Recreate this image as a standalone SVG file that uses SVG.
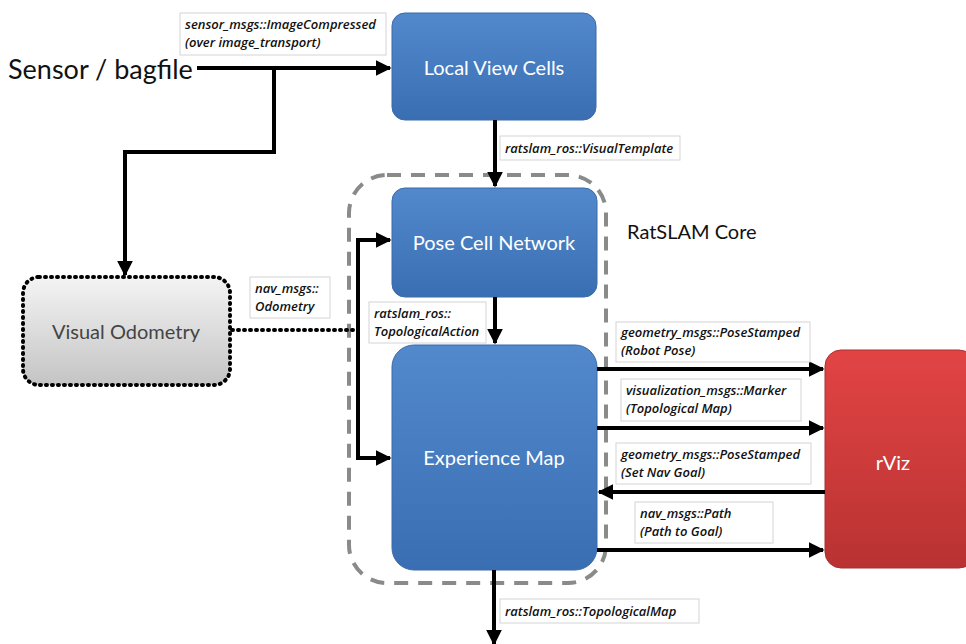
<svg xmlns="http://www.w3.org/2000/svg" width="966" height="644" viewBox="0 0 966 644">
<defs>
<linearGradient id="gBlue" x1="0" y1="0" x2="0" y2="1"><stop offset="0" stop-color="#5289cc"/><stop offset="1" stop-color="#3a6eb3"/></linearGradient>
<linearGradient id="gRed" x1="0" y1="0" x2="0" y2="1"><stop offset="0" stop-color="#e24444"/><stop offset="1" stop-color="#b93232"/></linearGradient>
<linearGradient id="gGray" x1="0" y1="0" x2="0" y2="1"><stop offset="0" stop-color="#f4f4f4"/><stop offset="1" stop-color="#c4c4c4"/></linearGradient>
<marker id="ah" viewBox="0 0 10 10" refX="9" refY="5" markerWidth="4" markerHeight="4" orient="auto" markerUnits="strokeWidth"><path d="M0,0 L10,5 L0,10 z" fill="#000"/></marker>
<style>
.blue{fill:url(#gBlue);stroke:#3a6aa8;stroke-width:1}
.ntext{font-family:Lato,"Open Sans",sans-serif;font-size:20px;fill:#fff;text-anchor:middle}
.lbox{fill:#fff;stroke:#d4d4d4;stroke-width:1}
.ltext{font-family:"Open Sans","Liberation Sans",sans-serif;font-size:13px;font-style:italic;font-weight:600;fill:#111}
.conn{stroke:#000;stroke-width:4;fill:none}
.arr{marker-end:url(#ah)}
</style>
</defs>

<g id="core-boundary">
<rect x="349" y="175" width="257" height="408" rx="38" fill="none" stroke="#8a8a8a" stroke-width="4" stroke-dasharray="14 10"/>
<text x="627" y="239" font-family="Lato,'Open Sans',sans-serif" font-size="20" fill="#111">RatSLAM Core</text>
</g>

<g id="sensor">
<text x="8" y="79" font-family="Lato,'Open Sans',sans-serif" font-size="27" fill="#111">Sensor / bagfile</text>
</g>

<g id="local-view-cells">
<rect class="blue" x="392" y="13" width="204" height="107" rx="13"/>
<text class="ntext" x="494" y="75">Local View Cells</text>
</g>

<g id="pose-cell-network">
<rect class="blue" x="392" y="188" width="205" height="109" rx="13"/>
<text class="ntext" x="494" y="250">Pose Cell Network</text>
</g>

<g id="experience-map">
<rect class="blue" x="392" y="345" width="205" height="225" rx="22"/>
<text class="ntext" x="494" y="465">Experience Map</text>
</g>

<g id="visual-odometry">
<rect x="23" y="277" width="207" height="108" rx="16" fill="url(#gGray)" stroke="#000" stroke-width="4" stroke-dasharray="1 5" stroke-linecap="round"/>
<text x="126" y="339" font-family="Lato,'Open Sans',sans-serif" font-size="20" fill="#444" text-anchor="middle">Visual Odometry</text>
</g>

<g id="rviz">
<rect x="825" y="350" width="150" height="218" rx="16" fill="url(#gRed)" stroke="#a83030" stroke-width="1"/>
<text x="893" y="470" font-family="Lato,'Open Sans',sans-serif" font-size="20" fill="#fff" text-anchor="middle">rViz</text>
</g>

<g id="connectors">
<path class="conn arr" d="M197,68 H390"/>
<path class="conn arr" d="M274,68 V152 H125 V275"/>
<path class="conn arr" d="M495,120 V186"/>
<path class="conn arr" d="M495,297 V343"/>
<path d="M232,330 H356" stroke="#000" stroke-width="4" stroke-dasharray="1 5" stroke-linecap="round" fill="none"/>
<path class="conn arr" d="M358,332 V240 H390"/>
<path class="conn arr" d="M358,328 V458 H390"/>
<path class="conn arr" d="M597,369 H823"/>
<path class="conn arr" d="M597,428 H823"/>
<path class="conn arr" d="M825,492 H599"/>
<path class="conn arr" d="M597,550 H823"/>
<path class="conn arr" d="M494,570 V644"/>
</g>

<g id="labels">
<rect class="lbox" x="180" y="13" width="206" height="42"/>
<text class="ltext" x="185" y="29">sensor_msgs::ImageCompressed</text>
<text class="ltext" x="185" y="47">(over image_transport)</text>

<rect class="lbox" x="500" y="136" width="180" height="24"/>
<text class="ltext" x="505" y="153">ratslam_ros::VisualTemplate</text>

<rect class="lbox" x="250" y="277" width="80" height="41"/>
<text class="ltext" x="255" y="293">nav_msgs::</text>
<text class="ltext" x="255" y="311">Odometry</text>

<rect class="lbox" x="369" y="302" width="117" height="41"/>
<text class="ltext" x="374" y="318">ratslam_ros::</text>
<text class="ltext" x="374" y="336">TopologicalAction</text>

<rect class="lbox" x="616" y="322" width="194" height="40"/>
<text class="ltext" x="621" y="337">geometry_msgs::PoseStamped</text>
<text class="ltext" x="621" y="355">(Robot Pose)</text>

<rect class="lbox" x="621" y="379" width="180" height="42"/>
<text class="ltext" x="626" y="395">visualization_msgs::Marker</text>
<text class="ltext" x="626" y="413">(Topological Map)</text>

<rect class="lbox" x="616" y="443" width="195" height="41"/>
<text class="ltext" x="621" y="459">geometry_msgs::PoseStamped</text>
<text class="ltext" x="621" y="477">(Set Nav Goal)</text>

<rect class="lbox" x="635" y="502" width="138" height="41"/>
<text class="ltext" x="640" y="518">nav_msgs::Path</text>
<text class="ltext" x="640" y="536">(Path to Goal)</text>

<rect class="lbox" x="500" y="599" width="199" height="24"/>
<text class="ltext" x="505" y="616">ratslam_ros::TopologicalMap</text>
</g>
</svg>
